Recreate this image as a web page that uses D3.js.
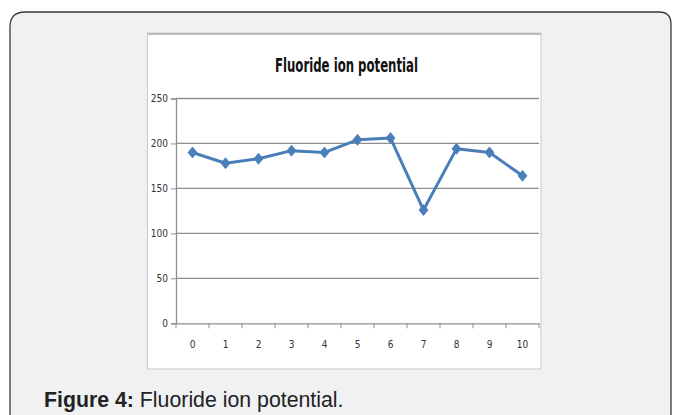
<!DOCTYPE html>
<html><head><meta charset="utf-8">
<script src="https://cdn.jsdelivr.net/npm/d3@7"></script>
<style>
html,body{margin:0;padding:0;background:#ffffff;}
svg{display:block;}
</style></head>
<body>
<svg id="c" width="674" height="415"></svg>
<script>
const categories = ["0","1","2","3","4","5","6","7","8","9","10"];
const values = [190, 178, 183, 192, 190, 204, 206, 126, 194, 190, 164];
const yTicks = [0, 50, 100, 150, 200, 250];
const chartTitle = "Fluoride ion potential";
const captionBold = "Figure 4:";
const captionText = " Fluoride ion potential.";

(function () {
const svg = d3.select("#c");

// card
svg.append("path")
  .attr("d", "M10,432 L10,27 Q10,12 25,12 L659,12 Q671,12 671,24 L671,432")
  .attr("fill", "#f0f1f3").attr("stroke", "#3a3a3a").attr("stroke-width", 1.3);

// white chart box
svg.append("rect").attr("x", 147.5).attr("y", 33).attr("width", 393.5).attr("height", 336)
  .attr("fill", "#ffffff").attr("stroke", "#c8c8c8").attr("stroke-width", 1);
svg.append("line").attr("x1", 147.5).attr("x2", 541).attr("y1", 34).attr("y2", 34)
  .attr("stroke", "#bdbdbd").attr("stroke-width", 2);

const pLeft = 176, pRight = 539, pTop = 98.5, pBottom = 323.3;
const x = d3.scaleBand().domain(categories).range([pLeft, pRight]).padding(0);
const y = d3.scaleLinear().domain([0, 250]).range([pBottom, pTop]);

// gridlines
svg.append("g").selectAll("line").data(yTicks.filter(d => d > 0)).join("line")
  .attr("x1", pLeft).attr("x2", pRight)
  .attr("y1", d => y(d)).attr("y2", d => y(d))
  .attr("stroke", "#8f8f8f").attr("stroke-width", 1.3);

const font = "'Liberation Sans Narrow','Arial Narrow','DejaVu Sans Condensed',sans-serif";

// y axis
const yAxis = d3.axisLeft(y).tickValues(yTicks).tickSize(5).tickPadding(3);
const gy = svg.append("g").attr("transform", `translate(${pLeft},0)`).call(yAxis);
gy.select(".domain").attr("stroke", "#8f8f8f").attr("stroke-width", 1.3);
gy.selectAll(".tick line").attr("stroke", "#8f8f8f");
gy.selectAll(".tick text").attr("font-family", font).attr("font-size", 10).attr("fill", "#333");

// x axis
const gx = svg.append("g").attr("transform", `translate(0,${pBottom})`)
  .call(d3.axisBottom(x).tickSize(0).tickPadding(18));
gx.select(".domain").attr("stroke", "#8f8f8f").attr("stroke-width", 1.3);
gx.selectAll(".tick text").attr("font-family", font).attr("font-size", 10).attr("fill", "#333");
const bounds = categories.map(c => x(c) + x.bandwidth()).concat([x(categories[0])]);
svg.append("g").selectAll("line").data(bounds).join("line")
  .attr("x1", d => d).attr("x2", d => d).attr("y1", pBottom).attr("y2", pBottom + 5)
  .attr("stroke", "#8f8f8f").attr("stroke-width", 1);

// line
const cx = d => x(d) + x.bandwidth() / 2;
const line = d3.line().x((d, i) => cx(categories[i])).y(d => y(d));
svg.append("path").datum(values).attr("d", line)
  .attr("fill", "none").attr("stroke", "#4a7ebb").attr("stroke-width", 3)
  .attr("stroke-linejoin", "round");
svg.append("g").selectAll("path").data(values).join("path")
  .attr("transform", (d, i) => `translate(${cx(categories[i])},${y(d)})`)
  .attr("d", "M0,-5.5 L4.5,0 L0,5.5 L-4.5,0 Z")
  .attr("fill", "#4a7ebb").attr("stroke", "#4a7ebb").attr("stroke-width", 0.8);

// title
svg.append("text").attr("x", 346.5).attr("y", 71.5).attr("text-anchor", "middle")
  .attr("font-family", font).attr("font-weight", "bold").attr("font-size", 20)
  .attr("textLength", 143).attr("lengthAdjust", "spacingAndGlyphs")
  .attr("fill", "#111").text(chartTitle);

// caption
const cap = svg.append("text").attr("x", 44).attr("y", 406.5)
  .attr("font-family", "'Liberation Sans',Arial,sans-serif").attr("font-size", 21.3).attr("fill", "#222");
cap.append("tspan").attr("font-weight", "bold").text(captionBold);
cap.append("tspan").text(captionText);
})();
</script>
</body></html>
